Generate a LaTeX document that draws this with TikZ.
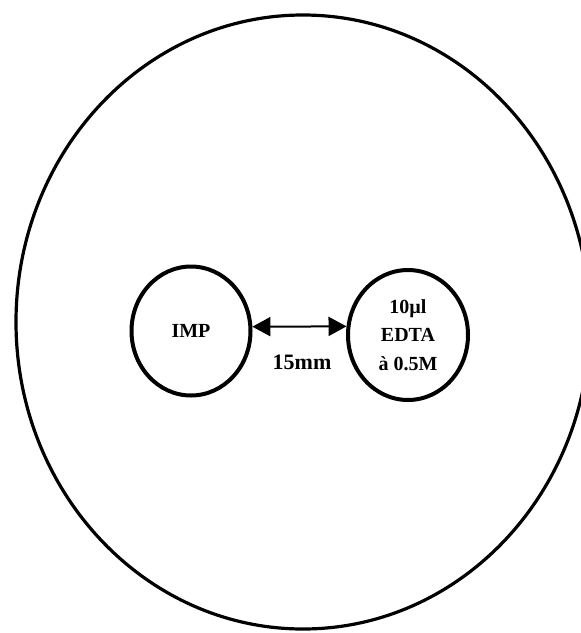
\documentclass[tikz,border=0pt]{standalone}
\usepackage{fontspec}
\setmainfont{Liberation Serif}
\usetikzlibrary{shapes.geometric,arrows.meta}
\tikzset{
  dish/.style={draw, ellipse, line width=3.2pt, inner sep=0pt, minimum width=574pt, minimum height=614pt},
  well/.style={draw, ellipse, line width=4pt, inner sep=0pt, align=center,
    font=\bfseries\fontsize{20}{28.5}\selectfont},
  label15/.style={font=\bfseries\fontsize{22}{26}\selectfont, inner sep=0pt},
  dimarrow/.style={line width=2pt, {Triangle[length=18pt,width=19pt]}-{Triangle[length=18pt,width=19pt]}}
}
\begin{document}
\begin{tikzpicture}[x=1pt,y=-1pt]
\useasboundingbox (0,0) rectangle (581,633);
\node[dish] (plate) at (303,322) {};
\node[well, minimum width=119pt, minimum height=129pt] (imp) at (191,331) {IMP};
\node[well, minimum width=120pt, minimum height=130pt] (edta) at (408,335) {10µl\\EDTA\\à 0.5M};
\draw[dimarrow] (imp.4) -- (edta.172);
\node[label15] (dist) at (302,362) {15mm};
\end{tikzpicture}
\end{document}
